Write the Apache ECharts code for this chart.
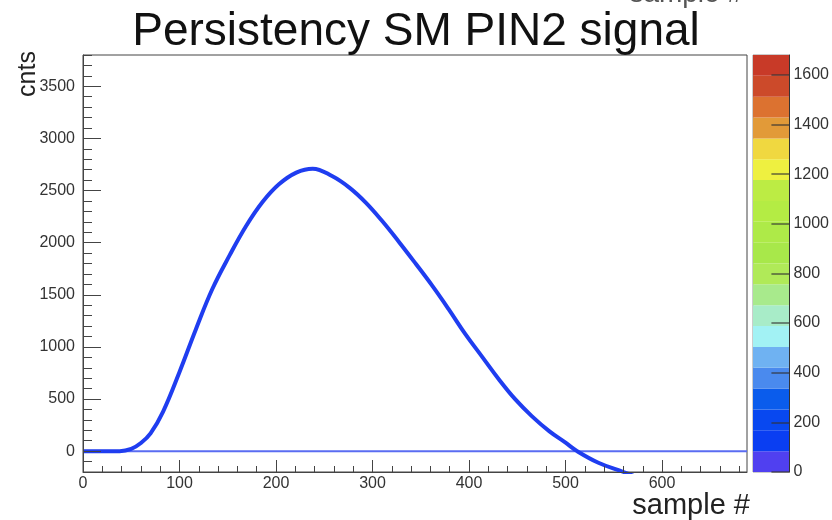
<!DOCTYPE html>
<html>
<head>
<meta charset="utf-8">
<script src="https://cdn.jsdelivr.net/npm/echarts@6/dist/echarts.min.js"></script>
<style>
html, body { margin: 0; padding: 0; background: #fff; }
#chart { width: 832px; height: 520px; }
</style>
</head>
<body>
<div id="chart"></div>
<script>
// signal trace (sample #, cnts)
var sampleNo = [0, 20, 38, 50, 60, 70, 83, 100, 117, 134, 152, 169, 186, 203, 221, 238,
    258, 276, 293, 310, 328, 345, 362, 379, 396, 414, 431, 448, 465, 483, 500, 512, 534, 560, 580];
var signal = [0, 0, 0, 22, 78, 170, 380, 760, 1170, 1555, 1880, 2160, 2390, 2560, 2672, 2710,
    2639, 2528, 2384, 2207, 2000, 1795, 1585, 1360, 1125, 900, 688, 496, 336, 192, 81, 0, -111, -200, -270];

// pedestal line (cnts = 0 over the whole window)
var baseX = [0, 688];
var baseY = [0, 0];

var xRange = [0, 688];
var yRange = [-200, 3800];
var xTicks = [0, 100, 200, 300, 400, 500, 600];
var yTicks = [0, 500, 1000, 1500, 2000, 2500, 3000, 3500];
var zTicks = [0, 200, 400, 600, 800, 1000, 1200, 1400, 1600];
var zMax = 1680;

// palette bands, bottom to top
var palette = ['#5040f0', '#0a3ef2', '#0848f0', '#0a5cec', '#4a8aee', '#6fb2f2', '#a2f2f4', '#a8ecc8',
    '#a8ea8c', '#b0ea58', '#a8e84a', '#aeea48', '#b4ec44', '#bcec44', '#eef040', '#f0d840',
    '#e29a38', '#dc7230', '#cc4a2a', '#c83a28'];

var FONT = 'Liberation Sans';

function minorTicks(lo, hi, step) {
    var out = [];
    for (var v = lo; v <= hi; v += step) out.push(v);
    return out;
}

function plain(v) { return String(v); }

var curve = sampleNo.map(function (x, i) { return [x, signal[i]]; });
var base = baseX.map(function (x, i) { return [x, baseY[i]]; });
var bands = palette.map(function (c, i) {
    return [i * zMax / palette.length, (i + 1) * zMax / palette.length, i];
});

var chart = echarts.init(document.getElementById('chart'));

chart.setOption({
    animation: false,
    backgroundColor: '#fff',
    title: {
        text: 'Persistency SM PIN2 signal',
        left: 'center',
        top: 4,
        textStyle: { fontFamily: FONT, fontSize: 46, fontWeight: 'normal', color: '#111' }
    },
    grid: [
        { left: 83, right: 85, top: 55, bottom: 48, show: true, borderColor: '#444', borderWidth: 1, backgroundColor: '#fff' },
        { left: 753, right: 41, top: 55, bottom: 48, show: true, borderColor: '#999', borderWidth: 1 }
    ],
    xAxis: [
        {
            type: 'value', gridIndex: 0, min: xRange[0], max: xRange[1], z: 10,
            axisLine: { show: true, onZero: false, lineStyle: { color: '#444', width: 1 } },
            axisTick: { show: true, inside: true, length: 12, customValues: xTicks, lineStyle: { color: '#444' } },
            axisLabel: { customValues: xTicks, formatter: plain, margin: 4, color: '#333', fontFamily: FONT, fontSize: 16 },
            splitLine: { show: false }
        },
        {
            type: 'value', gridIndex: 0, min: xRange[0], max: xRange[1], position: 'bottom', z: 10,
            axisLine: { show: false, onZero: false },
            axisTick: { show: true, inside: true, length: 6, customValues: minorTicks(0, 680, 20), lineStyle: { color: '#444' } },
            axisLabel: { show: false },
            splitLine: { show: false }
        },
        {
            type: 'value', gridIndex: 1, min: 0, max: 1, show: false
        }
    ],
    yAxis: [
        {
            type: 'value', gridIndex: 0, min: yRange[0], max: yRange[1], position: 'left', z: 10,
            axisLine: { show: true, onZero: false, lineStyle: { color: '#444', width: 1 } },
            axisTick: { show: true, inside: true, length: 18, customValues: yTicks, lineStyle: { color: '#444' } },
            axisLabel: { customValues: yTicks, formatter: plain, margin: 8, color: '#333', fontFamily: FONT, fontSize: 16 },
            splitLine: { show: false }
        },
        {
            type: 'value', gridIndex: 0, min: yRange[0], max: yRange[1], position: 'left', offset: 0, z: 10,
            axisLine: { show: false, onZero: false },
            axisTick: { show: true, inside: true, length: 9, customValues: minorTicks(-200, 3800, 100), lineStyle: { color: '#444' } },
            axisLabel: { show: false },
            splitLine: { show: false }
        },
        {
            type: 'value', gridIndex: 1, min: 0, max: zMax, position: 'right', z: 10,
            axisLine: { show: true, onZero: false, lineStyle: { color: '#333', width: 1 } },
            axisTick: { show: true, inside: true, length: 18, customValues: zTicks, lineStyle: { color: '#333', width: 1.5, opacity: 0.75 } },
            axisLabel: { customValues: zTicks, formatter: plain, margin: 4, color: '#333', fontFamily: FONT, fontSize: 16 },
            splitLine: { show: false }
        }
    ],
    graphic: [
        {
            type: 'text', x: 28, y: 74, rotation: Math.PI / 2,
            style: { text: 'cnts', fontFamily: FONT, fontSize: 25, fill: '#222', textAlign: 'center', textVerticalAlign: 'middle' }
        },
        {
            type: 'text', x: 750, y: 506,
            style: { text: 'sample #', fontFamily: FONT, fontSize: 29, fill: '#222', textAlign: 'right', textVerticalAlign: 'middle' }
        },
        {
            // bottom edge of a label cut off by the top of the picture
            type: 'text', x: 743, y: -6,
            style: { text: 'sample #', fontFamily: FONT, fontSize: 28, fill: '#555', textAlign: 'right', textVerticalAlign: 'middle' }
        }
    ],
    series: [
        {
            name: 'pedestal', type: 'line', xAxisIndex: 0, yAxisIndex: 0,
            data: base, symbol: 'none', silent: true,
            lineStyle: { color: '#5a6cf2', width: 2 }
        },
        {
            name: 'signal', type: 'line', xAxisIndex: 0, yAxisIndex: 0,
            data: curve, symbol: 'none', smooth: 0.4, silent: true,
            lineStyle: { color: '#1f3df0', width: 4 }
        },
        {
            name: 'palette', type: 'custom', xAxisIndex: 2, yAxisIndex: 2,
            data: bands, silent: true,
            renderItem: function (params, api) {
                var a = api.coord([0, api.value(0)]);
                var b = api.coord([1, api.value(1)]);
                return {
                    type: 'rect',
                    shape: { x: a[0], y: b[1], width: b[0] - a[0], height: a[1] - b[1] },
                    style: { fill: palette[api.value(2)] }
                };
            }
        }
    ]
});
</script>
</body>
</html>
